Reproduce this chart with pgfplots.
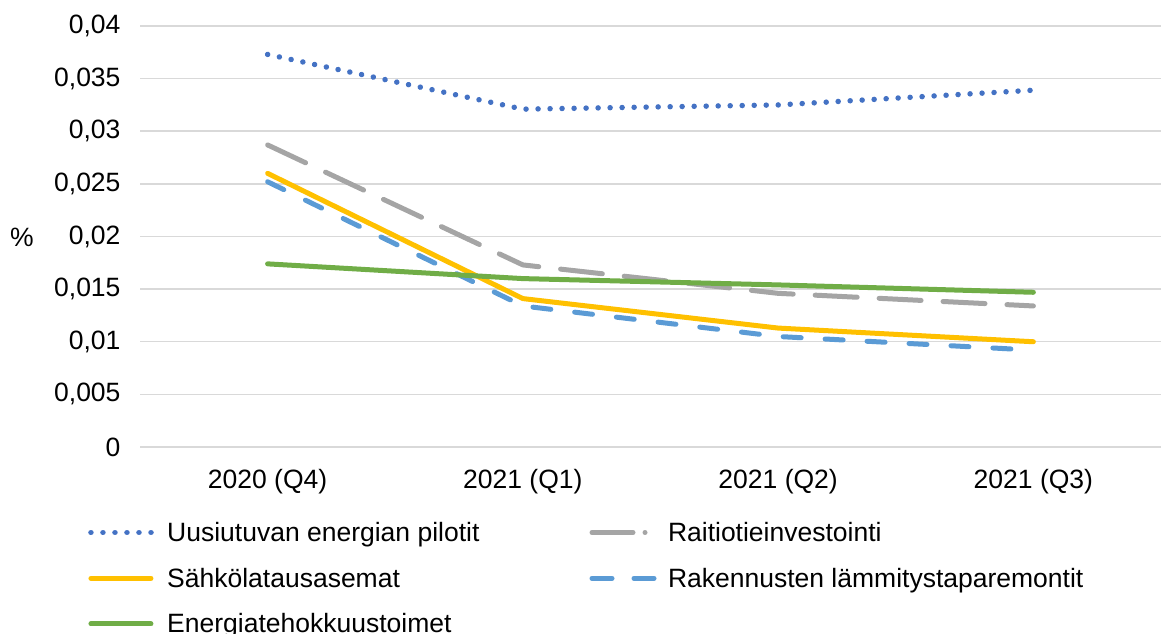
\documentclass[border=0pt]{standalone}
\usepackage{pgfplots}
\pgfplotsset{compat=1.18}
\usepackage{fontspec}
\setmainfont{Liberation Sans}
\definecolor{cBlue}{HTML}{4472C4}
\definecolor{cGray}{HTML}{A5A5A5}
\definecolor{cYel}{HTML}{FFC000}
\definecolor{cLBlue}{HTML}{5B9BD5}
\definecolor{cGreen}{HTML}{70AD47}
\definecolor{cGrid}{HTML}{D9D9D9}
\begin{document}
\begin{tikzpicture}
\path[use as bounding box] (0,0) rectangle (1161pt,634pt);
\node[font=\fontsize{26.5}{31}\selectfont] at (22pt,397pt) {\%};
\begin{axis}[
  at={(140pt,187pt)}, anchor=south west,
  scale only axis, width=1021pt, height=421pt,
  xmin=-0.5, xmax=3.5, ymin=0, ymax=0.04,
  xtick={0,1,2,3},
  xticklabels={2020 (Q4),2021 (Q1),2021 (Q2),2021 (Q3)},
  ytick={0,0.005,...,0.0401},
  scaled y ticks=false,
  yticklabel style={/pgf/number format/fixed, /pgf/number format/precision=3,
    /pgf/number format/use comma, /pgf/number format/assume math mode=true, xshift=-16pt},
  font=\fontsize{26.5}{31}\selectfont,
  tick label style={font=\fontsize{26.5}{31}\selectfont},
  xticklabel style={yshift=-19pt},
  axis line style={draw=none},
  major tick length=0pt,
  ymajorgrids, grid style={cGrid, line width=1.5pt},
  clip=false,
  legend columns=2,
  legend cell align=left,
  legend style={draw=none, fill=none, at={(0,0)}, anchor=north west,
    xshift=-52pt, yshift=-72pt, inner sep=0pt,
    font=\fontsize{26.5}{31}\selectfont,
    /tikz/every odd column/.append style={column sep=8pt},
    /tikz/every even column/.append style={column sep=107pt},
    /tikz/row sep=19pt,
    nodes={inner sep=3pt}},
  every axis plot/.append style={line width=5pt, line join=round},
]
\addplot[cBlue, line width=5.5pt, line cap=round, dash pattern=on 0.01pt off 12pt,
  legend image code/.code={\draw[cBlue, line width=5.5pt, line cap=round, dash pattern=on 0.01pt off 12pt] (2.5pt,0pt) -- (65pt,0pt);}]
  coordinates {(0,0.0373) (1,0.0321) (2,0.0325) (3,0.0339)};
\addlegendentry{Uusiutuvan energian pilotit}
\addplot[cGray, line cap=round, dash pattern=on 42pt off 22pt,
  legend image code/.code={\draw[cGray, line width=5pt, line cap=round, dash pattern=on 41pt off 12pt on 0.01pt off 20pt] (2.5pt,0pt) -- (60pt,0pt);}]
  coordinates {(0,0.0287) (1,0.0173) (2,0.0146) (3,0.0134)};
\addlegendentry{Raitiotieinvestointi}
\addplot[cYel, line cap=round,
  legend image code/.code={\draw[cYel, line width=5pt, line cap=round] (2.5pt,0pt) -- (62.5pt,0pt);}]
  coordinates {(0,0.0260) (1,0.0141) (2,0.0113) (3,0.0100)};
\addlegendentry{Sähkölatausasemat}
\addplot[cLBlue, line cap=round, dash pattern=on 18pt off 24pt,
  legend image code/.code={\draw[cLBlue, line width=5pt, line cap=round, dash pattern=on 20pt off 22pt] (2.5pt,0pt) -- (65pt,0pt);}]
  coordinates {(0,0.0252) (1,0.0134) (2,0.0105) (3,0.0092)};
\addlegendentry{Rakennusten lämmitystaparemontit}
\addplot[cGreen, line cap=round,
  legend image code/.code={\draw[cGreen, line width=5pt, line cap=round] (2.5pt,0pt) -- (62.5pt,0pt);}]
  coordinates {(0,0.0174) (1,0.0160) (2,0.0154) (3,0.0147)};
\addlegendentry{Energiatehokkuustoimet}
\end{axis}
\end{tikzpicture}
\end{document}
